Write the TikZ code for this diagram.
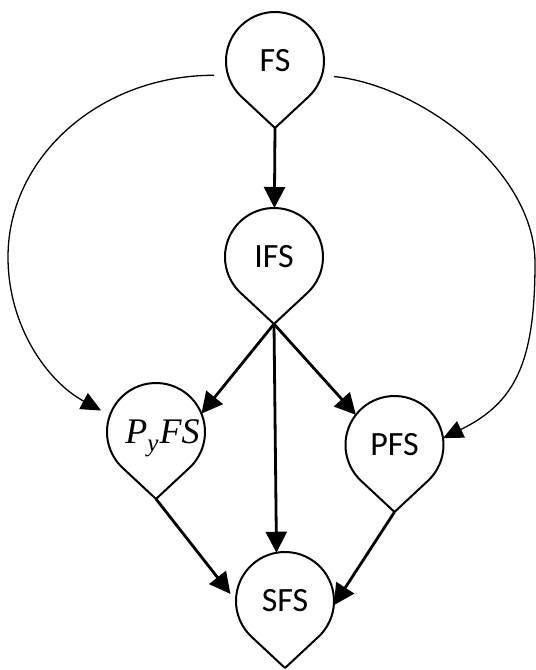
\documentclass[tikz,border=0pt]{standalone}
\usepackage{fontspec}
\setmainfont{Carlito}
\newfontfamily\mathlike{Liberation Serif}
\usetikzlibrary{arrows.meta,calc}
\begin{document}
\begin{tikzpicture}[x=1pt,y=1pt,
  tear/.style={circle, minimum size=98pt, inner sep=0pt, outer sep=0pt,
    font=\fontsize{34}{40}\selectfont},
  outline/.style={line width=2pt, line join=round},
  thickarrow/.style={line width=2.8pt, -{Triangle[length=21pt,width=21pt]}},
  thinarrow/.style={line width=1.3pt, -{Triangle[length=20pt,width=18pt]}}]
\useasboundingbox (0,0) rectangle (536,670);
\node[tear] (fs) at (275,609) {FS};
\node[tear] (ifs) at (274,413) {IFS};
\node[tear, text depth=0pt, font=\mathlike\itshape\fontsize{36}{40}\selectfont] (pyfs) at (156,238)
  {\hspace*{13pt}P\raisebox{-0.22em}{\fontsize{25}{25}\selectfont y}\kern1pt FS};
\node[tear] (pfs) at (394.5,225) {PFS};
\node[tear] (sfs) at (285,69) {SFS};
\foreach \n in {fs,ifs,pyfs,pfs,sfs} {
  \coordinate (\n-tip) at ($(\n.center)+(0,-67)$);
  \draw[outline] (\n.-47) arc[start angle=-47,end angle=227,radius=49pt] -- (\n-tip) -- cycle;
}
% thick connectors
\draw[thickarrow] (fs-tip) -- (ifs);
\draw[thickarrow] (ifs-tip) -- (pyfs.22);
\draw[thickarrow] (ifs-tip) -- (pfs.142);
\draw[thickarrow] (ifs-tip) -- (sfs.100);
\draw[thickarrow, shorten >=9pt] (pyfs-tip) -- (sfs.180);
\draw[thickarrow] (pfs-tip) -- (sfs.-5);
% thin curved connectors
\draw[thinarrow, shorten <=14pt, shorten >=10pt] (fs.197) .. controls (100,595) and (8,513) .. (8,413)
  .. controls (8,343) and (48,288) .. (pyfs.160);
\draw[thinarrow, shorten <=12pt] (fs.-17) .. controls (420,585) and (535,500) .. (535,407)
  .. controls (535,307) and (515,267) .. (pfs.8);
\end{tikzpicture}
\end{document}
